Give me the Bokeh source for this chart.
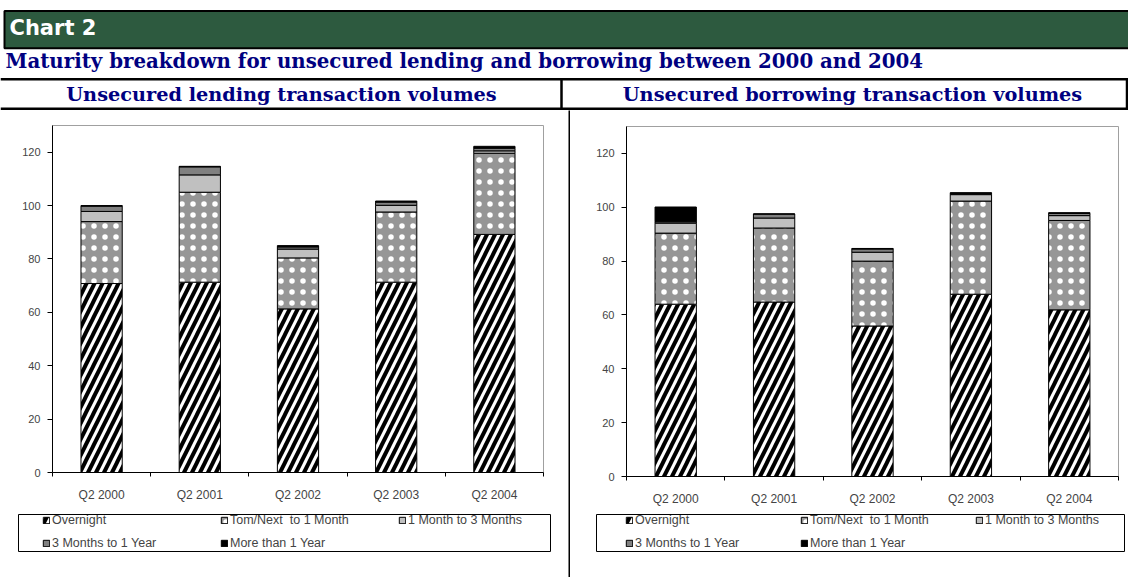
from bokeh.plotting import figure
from bokeh.layouts import column, row
from bokeh.models import (ColumnDataSource, Range1d, FixedTicker, Legend,
                          LegendItem, BoxAnnotation)
from bokeh.embed import file_html
from bokeh.resources import INLINE
from bokeh.core.properties import value

# ---------------- data ----------------
categories = ["Q2 2000", "Q2 2001", "Q2 2002", "Q2 2003", "Q2 2004"]
series_names = ["Overnight", "Tom/Next  to 1 Month", "1 Month to 3 Months",
                "3 Months to 1 Year", "More than 1 Year"]

lend_overnight = [70.8, 71.3, 61.3, 71.3, 89.2]
lend_tomnext = [23.2, 33.7, 19.1, 26.3, 30.4]
lend_1to3m = [3.8, 6.5, 3.3, 2.5, 0.9]
lend_3mto1y = [2.0, 3.0, 0.8, 1.2, 1.0]
lend_over1y = [0.2, 0.2, 0.5, 0.4, 0.7]

borr_overnight = [64.0, 64.8, 55.9, 67.7, 61.9]
borr_tomnext = [26.4, 27.5, 24.1, 34.6, 33.2]
borr_1to3m = [3.7, 3.7, 3.3, 2.4, 1.8]
borr_3mto1y = [0.5, 1.5, 1.2, 0.5, 0.8]
borr_over1y = [5.5, 0.0, 0.2, 0.2, 0.3]

y_ticks = [0, 20, 40, 60, 80, 100, 120]
y_max = 130

chart_label = "Chart 2"
title_text = "Maturity breakdown for unsecured lending and borrowing between 2000 and 2004"
left_title = "Unsecured lending transaction volumes"
right_title = "Unsecured borrowing transaction volumes"

# ---------------- styles ----------------
FILLS = ["white", "#969696", "#C0C0C0", "#808080", "black"]
HATCH = ["/", ".", None, None, None]
HATCH_COLOR = ["black", "white", "black", "black", "black"]
HATCH_SCALE = [16, 11, 10, 10, 10]
HATCH_WEIGHT = [4, 0.5, 1, 1, 1]
NAVY = "#000080"
FONT = "Liberation Sans"
SERIF = "DejaVu Serif"
CHART_H = 467


def make_chart(series, fig_w, plot_l, plot_w, plot_t, plot_h,
               legend_box, legend_xy, label_w):
    """plot_l/plot_t: pixel offsets of the plot area inside the figure;
    legend_box: (left, right, top, bottom) pixels inside the figure."""
    n = len(categories)
    ppx = plot_w / n
    ppy = plot_h / y_max
    plot_b = plot_t + plot_h
    keys = ["s0", "s1", "s2", "s3", "s4"]
    data = {"x": [i + 0.5 for i in range(n)]}
    for k, s in zip(keys, series):
        data[k] = s
    src = ColumnDataSource(data)
    p = figure(width=fig_w, height=CHART_H,
               x_range=Range1d(-plot_l / ppx, (fig_w - plot_l) / ppx),
               y_range=Range1d(-(CHART_H - plot_b) / ppy, y_max + plot_t / ppy),
               output_backend="svg", toolbar_location=None, min_border=0,
               outline_line_color=None, background_fill_color="white",
               border_fill_color="white")
    p.grid.visible = False
    # plot-area frame (Excel style light grey border)
    p.add_layout(BoxAnnotation(left=0, right=n, bottom=0, top=y_max,
                               fill_alpha=0, line_color="#A0A0A0",
                               line_alpha=1, line_width=1, level="underlay"))
    rs = p.vbar_stack(keys, x="x", width=0.42, source=src,
                      fill_color=FILLS, line_color="black", line_width=1,
                      hatch_pattern=HATCH, hatch_color=HATCH_COLOR,
                      hatch_scale=HATCH_SCALE, hatch_weight=HATCH_WEIGHT)
    # y axis
    yax = p.yaxis[0]
    yax.fixed_location = 0
    yax.bounds = (0, y_max)
    yax.ticker = FixedTicker(ticks=y_ticks, minor_ticks=[])
    yax.major_tick_out = 5
    yax.major_tick_in = 0
    yax.axis_line_color = "black"
    yax.major_tick_line_color = "black"
    yax.major_label_text_font = FONT
    yax.major_label_text_font_size = "11px"
    yax.major_label_standoff = 7
    # x axis (ticks between categories, labels centred)
    xax = p.xaxis[0]
    xax.fixed_location = 0
    xax.bounds = (0, n)
    xax.ticker = FixedTicker(ticks=data["x"], minor_ticks=list(range(n + 1)))
    xax.major_label_overrides = {x: c for x, c in zip(data["x"], categories)}
    xax.major_tick_line_color = None
    xax.major_tick_out = 0
    xax.minor_tick_out = 4
    xax.minor_tick_in = 0
    xax.minor_tick_line_color = "black"
    xax.axis_line_color = "black"
    xax.major_label_text_font = FONT
    xax.major_label_text_font_size = "12px"
    xax.major_label_standoff = 11

    # legend box
    bl, br, bt, bb = legend_box
    p.add_layout(BoxAnnotation(left=(bl - plot_l) / ppx, right=(br - plot_l) / ppx,
                               top=(plot_b - bt) / ppy, bottom=(plot_b - bb) / ppy,
                               fill_color="white", fill_alpha=1,
                               line_color="black", line_alpha=1, line_width=1))
    items = [LegendItem(label=nm, renderers=[r]) for nm, r in zip(series_names, rs)]
    leg = Legend(items=items, location=legend_xy, orientation="horizontal",
                 ncols=3, border_line_color=None, background_fill_alpha=0,
                 label_text_font=FONT, label_text_font_size="12.5px",
                 glyph_width=8, glyph_height=8, label_standoff=2,
                 label_width=label_w, label_height=13, padding=0, spacing=9,
                 margin=0)
    p.add_layout(leg, "center")
    return p


left = make_chart([lend_overnight, lend_tomnext, lend_1to3m, lend_3mto1y, lend_over1y],
                  568, 52, 491, 15, 347, (18, 550, 404, 441), (42, 27), 159)
right = make_chart([borr_overnight, borr_tomnext, borr_1to3m, borr_3mto1y, borr_over1y],
                   558, 56, 492, 16, 350, (26, 554, 404, 441), (55, 27), 156)

divider = figure(width=2, height=CHART_H, x_axis_type=None, y_axis_type=None,
                 output_backend="svg", toolbar_location=None, min_border=0,
                 outline_line_color=None, background_fill_color="black",
                 border_fill_color="black")

# ---------------- header ----------------
W = 1128
H = 110
header = figure(width=W, height=H, x_range=Range1d(0, W), y_range=Range1d(H, 0),
                x_axis_type=None, y_axis_type=None, output_backend="svg",
                toolbar_location=None, min_border=0, outline_line_color=None)
header.grid.visible = False
header.quad(left=4, right=W + 2, top=10.5, bottom=47.7, fill_color="#2D5A3F",
            line_color="black", line_width=2)
header.text(x=[9], y=[27], text=[chart_label], text_color="white",
            text_font=value("DejaVu Sans"), text_font_style="bold",
            text_font_size="21px", text_baseline="alphabetic")
header.text(x=[5], y=[60], text=[title_text], text_color=NAVY,
            text_font=value(SERIF), text_font_style="bold",
            text_font_size="19.8px", text_baseline="alphabetic")
header.segment(x0=[0, 0], y0=[78.7, 108.3], x1=[W, W], y1=[78.7, 108.3],
               line_color="black", line_width=2.5)
header.segment(x0=[561, W - 1.5], y0=[78.7, 78.7], x1=[561, W - 1.5], y1=[108.3, 108.3],
               line_color="black", line_width=2.5)
header.text(x=[281, 852], y=[93.5, 93.5], text=[left_title, right_title],
            text_color=NAVY, text_font=value(SERIF),
            text_font_style="bold", text_font_size="19.3px",
            text_align="center", text_baseline="alphabetic")

layout = column(header, row(left, divider, right, spacing=0), spacing=0)
open("out.html", "w").write(file_html(layout, INLINE))
